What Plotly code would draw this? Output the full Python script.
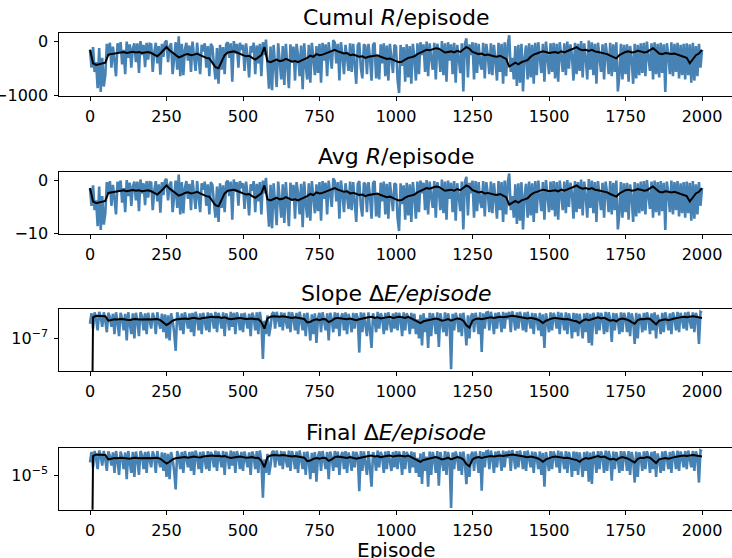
import plotly.graph_objects as go

# ---------------- data ----------------
episodes_raw = list(range(0, 2001, 5))      # raw (blue) series sampled every 5 episodes
episodes_avg = list(range(0, 2001, 10))     # smoothed (black) series sampled every 10 episodes

cumul_R_raw = [
    -150, -480, -100, -560, -380, -860, -120, -930, -300, -830,
    -620, -40, -260, -20, -480, -90, -350, -640, -30, -200,
    -10, -420, -150, -600, 0, -300, -50, -480, -120, -30,
    -380, -30, -580, 10, -250, -60, -470, -20, -330, -40,
    -50, -560, -200, -20, -400, -80, -610, -40, -280, -10,
    20, -380, -90, -30, -600, -260, -10, -520, 100, -640,
    -40, -620, -150, -20, -350, -70, -560, 0, -270, -540,
    -20, -300, -600, -60, -180, -30, -480, -80, -640, -40,
    -90, -420, -700, -120, -780, -60, -520, -100, -600, -50,
    -10, -300, -30, -740, 10, -220, -40, -480, -20, -150,
    -60, -540, -30, -280, -660, -80, -200, -20, -600, -70,
    -400, -40, -640, -10, -250, 40, -380, -870, -90, -900,
    -60, -440, -840, -30, -300, -700, -80, -800, -40, -500,
    -860, -50, -380, -90, -720, -40, -250, -640, -70, -880,
    -30, -450, -700, -60, -760, -20, -300, -620, -80, -580,
    -40, -760, -20, -350, -50, -640, -10, -250, -500, 30,
    -20, -400, -40, -720, -10, -250, -600, -60, -300, -540,
    -30, -560, -40, -350, -780, -70, -20, -480, -680, -50,
    -80, -600, -40, -300, -720, -60, -20, -680, -250, -700,
    -50, -400, -30, -640, -70, -720, -40, -300, -580, -60,
    -90, -700, -950, -60, -450, -100, -740, -50, -660, -80,
    -780, -40, -300, -720, -30, -600, -10, -250, -50, -560,
    0, -640, -30, -300, -520, -20, -700, -40, -200, -560,
    10, -620, -30, -740, -10, -350, -50, -600, -20, -760,
    -60, -300, -580, -30, -920, -40, 60, -660, -50, -250,
    -10, -700, -20, -580, -40, -400, -520, -20, -680, -40,
    -250, -600, -30, -620, -60, -350, -720, -20, -560, -40,
    -780, -10, -640, -50, 120, -560, -300, -700, -80, -820,
    -60, -760, -40, -920, -300, -70, -700, -30, -660, -60,
    -780, -20, -620, -10, -300, -580, -40, -740, 0, -250,
    -600, -30, -560, -20, -680, -40, -740, -10, -300, -560,
    -30, -620, 0, -500, -50, -250, -720, -20, -600, -40,
    -540, 10, -660, -30, -300, -700, 20, -520, -10, -620,
    -40, -780, -20, -350, -560, -50, -700, -30, -250, -600,
    -20, -640, -50, -560, -10, -920, -620, -40, -700, -60,
    -600, -50, -740, -80, -300, -780, -40, -680, -60, -620,
    -30, -580, -20, -640, 0, -300, -540, -30, -700, -10,
    -600, -40, -660, -20, -580, -50, -930, -30, -250, -600,
    -10, -640, -40, -560, -20, -680, -60, -620, -40, -700,
    -30, -620, -50, -760, -20, -720, -80, -640, -40, -480,
    -150,
]

cumul_R_smooth = [
    -150, -400, -430, -420, -410, -390, -240, -230, -220, -210,
    -200, -190, -210, -200, -185, -200, -190, -210, -200, -190,
    -210, -240, -270, -220, -160, -100, -160, -200, -250, -290,
    -270, -240, -230, -250, -240, -220, -250, -280, -300, -310,
    -380, -470, -490, -380, -250, -200, -190, -180, -200, -230,
    -250, -270, -260, -300, -330, -290, -250, -100, -360, -380,
    -350, -330, -360, -350, -320, -340, -370, -360, -380, -350,
    -330, -300, -260, -280, -230, -250, -240, -220, -200, -170,
    -150, -180, -200, -220, -210, -250, -240, -260, -280, -270,
    -300, -280, -270, -260, -250, -280, -300, -320, -310, -340,
    -360, -380, -370, -330, -300, -290, -270, -230, -200, -170,
    -150, -160, -140, -120, -130, -170, -200, -190, -180, -200,
    -170, -190, -150, -100, -130, -190, -210, -230, -220, -250,
    -240, -260, -270, -280, -260, -290, -320, -460, -430, -390,
    -420, -380, -360, -340, -280, -240, -220, -200, -180, -190,
    -210, -200, -190, -210, -180, -200, -170, -150, -130, -100,
    -140, -160, -150, -170, -150, -180, -190, -200, -210, -230,
    -260, -290, -310, -250, -220, -190, -180, -200, -190, -170,
    -180, -200, -190, -160, -120, -170, -220, -230, -210, -220,
    -230, -220, -240, -250, -270, -300, -400, -330, -250, -220,
    -150,
]

# Average reward per episode = cumulative reward / 100 steps (same curves, rescaled)
STEPS_PER_EPISODE = 100
avg_R_raw = [v / STEPS_PER_EPISODE for v in cumul_R_raw]
avg_R_smooth = [v / STEPS_PER_EPISODE for v in cumul_R_smooth]

# Slope of energy change per episode, in units of 1e-7
slope_dE_raw_e7 = [
    1.40, 1.78, 1.25, 1.82, 1.55, 1.20, 1.84, 1.65, 1.30, 1.82,
    1.50, 1.15, 1.80, 1.62, 1.30, 1.76, 1.10, 1.82, 1.45, 1.05,
    1.80, 1.58, 1.20, 1.76, 0.95, 1.82, 1.40, 1.10, 1.78, 1.00,
    1.80, 1.50, 1.05, 1.82, 1.65, 1.20, 1.78, 1.10, 1.80, 1.45,
    1.25, 1.80, 1.60, 1.10, 1.82, 1.45, 1.25, 1.76, 1.15, 1.74,
    1.00, 1.70, 0.95, 1.78, 1.50, 1.15, 0.75, 1.82, 1.60, 1.20,
    1.78, 1.10, 1.82, 1.55, 1.25, 1.78, 1.15, 1.80, 1.05, 1.84,
    1.60, 1.20, 1.78, 1.10, 1.80, 1.50, 1.20, 1.82, 1.15, 1.78,
    1.62, 1.25, 1.84, 1.15, 1.80, 1.55, 1.25, 1.82, 1.05, 1.78,
    1.58, 1.20, 1.84, 1.30, 1.80, 1.10, 1.82, 1.60, 1.20, 1.78,
    1.15, 1.80, 1.50, 1.25, 1.76, 1.05, 1.80, 1.62, 1.20, 1.82,
    1.10, 1.84, 1.45, 0.62, 1.50, 1.10, 1.70, 1.05, 1.30, 1.76,
    1.82, 1.25, 1.84, 1.60, 1.30, 1.82, 1.20, 1.80, 1.55, 1.25,
    1.84, 1.15, 1.82, 1.60, 1.20, 1.80, 1.10, 1.84, 1.50, 1.20,
    1.78, 1.05, 1.80, 1.45, 0.95, 1.74, 1.10, 1.78, 0.90, 1.60,
    1.80, 1.15, 1.82, 1.50, 1.20, 1.78, 0.95, 1.80, 1.55, 1.15,
    1.82, 1.25, 1.80, 1.05, 1.60, 1.78, 1.20, 1.82, 1.10, 1.76,
    1.50, 1.15, 1.80, 1.25, 1.78, 1.60, 0.72, 1.82, 1.15, 1.80,
    1.45, 1.05, 1.82, 1.20, 0.80, 1.78, 1.55, 1.15, 1.84, 1.25,
    1.78, 1.60, 1.10, 1.80, 1.20, 1.82, 1.50, 1.15, 1.78, 1.25,
    1.82, 1.20, 1.80, 1.55, 1.05, 1.82, 1.20, 1.78, 1.60, 1.10,
    1.80, 1.25, 1.76, 1.10, 1.55, 1.00, 1.72, 0.85, 1.78, 1.15,
    1.60, 0.80, 1.80, 1.05, 1.78, 1.50, 1.10, 1.82, 0.82, 1.78,
    1.45, 1.15, 1.82, 1.05, 1.78, 1.50, 0.49, 1.76, 1.20, 1.80,
    1.55, 1.15, 1.78, 1.05, 1.80, 1.40, 0.85, 1.70, 1.00, 1.66,
    1.78, 1.15, 1.80, 1.50, 1.10, 1.82, 0.73, 1.78, 1.25, 1.80,
    1.82, 1.20, 1.84, 1.55, 1.10, 1.80, 1.25, 1.82, 1.60, 1.15,
    1.84, 1.25, 1.80, 1.55, 1.84, 1.15, 1.86, 1.60, 1.20, 1.82,
    1.25, 1.84, 1.60, 1.20, 1.82, 1.15, 1.84, 1.50, 1.25, 1.80,
    1.10, 1.78, 1.55, 1.20, 1.80, 1.05, 1.74, 0.80, 1.78, 1.45,
    1.15, 1.82, 1.20, 1.80, 1.60, 1.25, 1.84, 1.10, 1.80, 1.55,
    1.20, 1.82, 1.10, 1.78, 1.50, 1.00, 1.80, 1.15, 1.78, 1.05,
    1.76, 1.40, 1.00, 1.78, 1.15, 1.80, 0.90, 1.76, 0.85, 1.80,
    1.55, 1.10, 1.82, 1.20, 1.80, 1.60, 1.10, 1.84, 1.15, 1.82,
    1.55, 0.92, 1.80, 1.20, 1.78, 1.50, 1.10, 1.82, 1.15, 1.80,
    1.60, 1.15, 1.82, 1.05, 1.78, 1.50, 0.88, 1.80, 1.00, 1.76,
    1.55, 1.15, 1.80, 1.20, 1.82, 1.60, 1.10, 1.78, 1.20, 1.82,
    1.00, 1.72, 1.45, 1.10, 1.80, 1.15, 1.82, 1.55, 1.20, 1.78,
    1.10, 1.82, 1.60, 1.20, 1.84, 1.15, 1.80, 1.55, 1.25, 1.82,
    1.20, 1.84, 1.50, 1.25, 1.82, 1.15, 1.80, 1.60, 0.88, 1.84,
    1.80,
]

slope_dE_smooth_e7 = [
    0.001, 1.62, 1.68, 1.68, 1.66, 1.66, 1.50, 1.52, 1.55, 1.54,
    1.56, 1.55, 1.54, 1.52, 1.55, 1.56, 1.54, 1.55, 1.56, 1.55,
    1.54, 1.55, 1.56, 1.52, 1.45, 1.36, 1.42, 1.50, 1.54, 1.55,
    1.56, 1.58, 1.56, 1.58, 1.60, 1.58, 1.57, 1.60, 1.62, 1.63,
    1.64, 1.62, 1.63, 1.60, 1.62, 1.58, 1.55, 1.57, 1.58, 1.60,
    1.58, 1.56, 1.57, 1.58, 1.55, 1.56, 1.45, 1.25, 1.58, 1.64,
    1.66, 1.65, 1.64, 1.66, 1.64, 1.62, 1.60, 1.62, 1.60, 1.58,
    1.56, 1.44, 1.46, 1.52, 1.55, 1.52, 1.56, 1.55, 1.45, 1.50,
    1.58, 1.60, 1.58, 1.56, 1.55, 1.58, 1.55, 1.52, 1.55, 1.58,
    1.60, 1.62, 1.64, 1.60, 1.62, 1.58, 1.60, 1.62, 1.64, 1.60,
    1.62, 1.64, 1.62, 1.60, 1.64, 1.58, 1.52, 1.45, 1.42, 1.48,
    1.50, 1.52, 1.55, 1.58, 1.55, 1.50, 1.52, 1.56, 1.50, 1.55,
    1.58, 1.56, 1.50, 1.35, 1.28, 1.50, 1.56, 1.58, 1.55, 1.58,
    1.60, 1.62, 1.60, 1.62, 1.64, 1.62, 1.64, 1.66, 1.68, 1.66,
    1.64, 1.62, 1.60, 1.58, 1.60, 1.58, 1.55, 1.50, 1.42, 1.50,
    1.55, 1.58, 1.60, 1.58, 1.56, 1.55, 1.56, 1.52, 1.50, 1.48,
    1.42, 1.50, 1.55, 1.52, 1.56, 1.60, 1.62, 1.58, 1.60, 1.55,
    1.50, 1.52, 1.48, 1.55, 1.58, 1.55, 1.52, 1.45, 1.40, 1.52,
    1.56, 1.55, 1.58, 1.56, 1.48, 1.38, 1.50, 1.52, 1.55, 1.52,
    1.56, 1.58, 1.60, 1.62, 1.64, 1.62, 1.64, 1.66, 1.64, 1.62,
    1.60,
]
slope_dE_raw = [v * 1e-7 for v in slope_dE_raw_e7]
slope_dE_smooth = [v * 1e-7 for v in slope_dE_smooth_e7]

# Final energy change per episode: the picture shows it is the slope series scaled
SLOPE_TO_FINAL = 95.5
final_dE_raw = [v * SLOPE_TO_FINAL for v in slope_dE_raw]
final_dE_smooth = [v * SLOPE_TO_FINAL for v in slope_dE_smooth]

x_ticks = [0, 250, 500, 750, 1000, 1250, 1500, 1750, 2000]
titles = ["Cumul <i>R</i>/episode", "Avg <i>R</i>/episode",
          "Slope Δ<i>E/episode</i>", "Final Δ<i>E/episode</i>"]

# ---------------- figure ----------------
W, H = 732, 558
FONT = "DejaVu Sans"
BLUE = "#4682b4"

panels_px = [(33.3, 95.7), (171.7, 233.7), (309.0, 371.0), (447.7, 509.7)]
x_left = 59.4 / W

series = [
    (cumul_R_raw, cumul_R_smooth),
    (avg_R_raw, avg_R_smooth),
    (slope_dE_raw, slope_dE_smooth),
    (final_dE_raw, final_dE_smooth),
]

fig = go.Figure()
layout = dict(
    template="none",
    width=W, height=H, margin=dict(l=0, r=0, t=0, b=0, pad=0),
    paper_bgcolor="white", plot_bgcolor="white", showlegend=False,
    font=dict(family=FONT, size=16, color="black"),
)

y_settings = [
    dict(type="linear", range=[-1000, 155], tickvals=[0, -1000], ticktext=["0", "−1000"]),
    dict(type="linear", range=[-10, 1.55], tickvals=[0, -10], ticktext=["0", "−10"]),
    dict(type="log", range=[-7.327, -6.707], tickvals=[1e-7], ticktext=["10<sup>−7</sup>"]),
    dict(type="log", range=[-5.347, -4.727], tickvals=[1e-5], ticktext=["10<sup>−5</sup>"]),
]

annotations = []
for i, ((raw, smooth), (top, bot), ys) in enumerate(zip(series, panels_px, y_settings)):
    n = i + 1
    xa = "x" if n == 1 else f"x{n}"
    ya = "y" if n == 1 else f"y{n}"
    fig.add_trace(go.Scatter(x=episodes_raw, y=raw, mode="lines",
                             line=dict(color=BLUE, width=2.6), xaxis=xa, yaxis=ya,
                             hoverinfo="skip"))
    fig.add_trace(go.Scatter(x=episodes_avg, y=smooth, mode="lines",
                             line=dict(color="black", width=2.0), xaxis=xa, yaxis=ya,
                             hoverinfo="skip"))
    dom = [1 - bot / H, 1 - top / H]
    common = dict(showline=True, linecolor="black", linewidth=1, mirror=True,
                  ticks="outside", ticklen=4, tickcolor="black", tickwidth=1,
                  showgrid=False, zeroline=False, automargin=False,
                  tickfont=dict(family=FONT, size=16, color="black"))
    layout[f"xaxis{n}"] = dict(domain=[x_left, 1], range=[-100, 2098],
                               anchor=ya, tickvals=x_ticks,
                               ticktext=[str(t) for t in x_ticks],
                               ticklabelstandoff=2, **common)
    layout[f"yaxis{n}"] = dict(domain=dom, anchor=xa, ticklabelstandoff=3,
                               **ys, **common)
    annotations.append(dict(text=titles[i], xref="paper", yref="paper",
                            x=396 / W, y=1 - top / H, xanchor="center",
                            yanchor="bottom", yshift=1, showarrow=False,
                            font=dict(family=FONT, size=22, color="black")))

annotations.append(dict(text="Episode", xref="paper", yref="paper",
                        x=396 / W, y=0, xanchor="center", yanchor="bottom",
                        yshift=-6, showarrow=False,
                        font=dict(family=FONT, size=20, color="black")))
layout["annotations"] = annotations
fig.update_layout(**layout)
fig.write_html("out.html")
